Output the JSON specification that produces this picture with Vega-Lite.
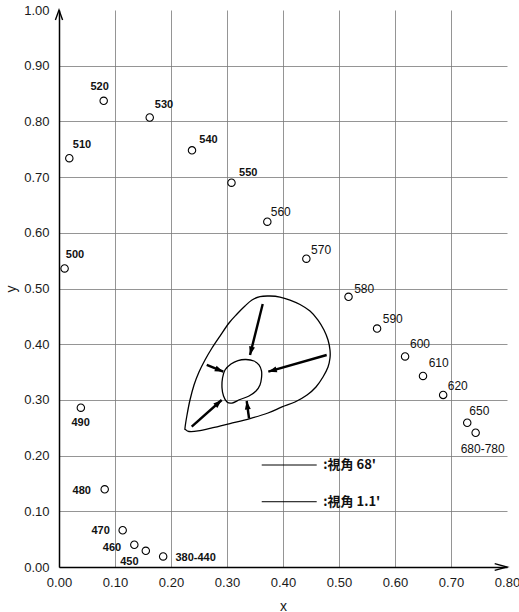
{
  "$schema": "https://vega.github.io/schema/vega-lite/v6.json",
  "width": 448,
  "height": 557,
  "autosize": {"type": "none"},
  "padding": {"left": 59, "top": 10, "right": 12, "bottom": 45},
  "background": "white",
  "config": {"view": {"stroke": null}, "font": "Liberation Sans"},
  "datasets": {
    "points": [
      {"wl": "380-440", "w": 380, "x": 0.186, "y": 0.019, "lx": 0.244, "ly": 0.016},
      {"wl": "450", "w": 450, "x": 0.155, "y": 0.029, "lx": 0.1256, "ly": 0.009},
      {"wl": "460", "w": 460, "x": 0.1345, "y": 0.040, "lx": 0.0946, "ly": 0.0335},
      {"wl": "470", "w": 470, "x": 0.1137, "y": 0.066, "lx": 0.0744, "ly": 0.065},
      {"wl": "480", "w": 480, "x": 0.0816, "y": 0.1395, "lx": 0.0405, "ly": 0.137},
      {"wl": "490", "w": 490, "x": 0.039, "y": 0.286, "lx": 0.0387, "ly": 0.259},
      {"wl": "500", "w": 500, "x": 0.010, "y": 0.536, "lx": 0.0286, "ly": 0.560},
      {"wl": "510", "w": 510, "x": 0.0184, "y": 0.734, "lx": 0.041, "ly": 0.758},
      {"wl": "520", "w": 520, "x": 0.0798, "y": 0.837, "lx": 0.0725, "ly": 0.862},
      {"wl": "530", "w": 530, "x": 0.162, "y": 0.807, "lx": 0.1875, "ly": 0.829},
      {"wl": "540", "w": 540, "x": 0.2375, "y": 0.748, "lx": 0.267, "ly": 0.767},
      {"wl": "550", "w": 550, "x": 0.308, "y": 0.690, "lx": 0.338, "ly": 0.707},
      {"wl": "560", "w": 560, "x": 0.372, "y": 0.620, "lx": 0.396, "ly": 0.637},
      {"wl": "570", "w": 570, "x": 0.4417, "y": 0.5535, "lx": 0.468, "ly": 0.569},
      {"wl": "580", "w": 580, "x": 0.517, "y": 0.485, "lx": 0.545, "ly": 0.4997},
      {"wl": "590", "w": 590, "x": 0.568, "y": 0.428, "lx": 0.596, "ly": 0.445},
      {"wl": "600", "w": 600, "x": 0.618, "y": 0.378, "lx": 0.6446, "ly": 0.400},
      {"wl": "610", "w": 610, "x": 0.650, "y": 0.343, "lx": 0.678, "ly": 0.366},
      {"wl": "620", "w": 620, "x": 0.686, "y": 0.309, "lx": 0.712, "ly": 0.3255},
      {"wl": "650", "w": 650, "x": 0.729, "y": 0.259, "lx": 0.7506, "ly": 0.280},
      {"wl": "680-780", "w": 680, "x": 0.744, "y": 0.241, "lx": 0.7566, "ly": 0.212}
    ],
    "curves": [
      {"curve": "outer", "order": 1, "x": 0.225, "y": 0.2496},
      {"curve": "outer", "order": 2, "x": 0.2286, "y": 0.2729},
      {"curve": "outer", "order": 3, "x": 0.2339, "y": 0.2998},
      {"curve": "outer", "order": 4, "x": 0.2411, "y": 0.3268},
      {"curve": "outer", "order": 5, "x": 0.25, "y": 0.3501},
      {"curve": "outer", "order": 6, "x": 0.2607, "y": 0.3716},
      {"curve": "outer", "order": 7, "x": 0.2732, "y": 0.3932},
      {"curve": "outer", "order": 8, "x": 0.2875, "y": 0.4147},
      {"curve": "outer", "order": 9, "x": 0.3036, "y": 0.4381},
      {"curve": "outer", "order": 10, "x": 0.3179, "y": 0.4542},
      {"curve": "outer", "order": 11, "x": 0.3321, "y": 0.4686},
      {"curve": "outer", "order": 12, "x": 0.3446, "y": 0.4793},
      {"curve": "outer", "order": 13, "x": 0.3589, "y": 0.4856},
      {"curve": "outer", "order": 14, "x": 0.3768, "y": 0.4865},
      {"curve": "outer", "order": 15, "x": 0.3946, "y": 0.4847},
      {"curve": "outer", "order": 16, "x": 0.4125, "y": 0.4793},
      {"curve": "outer", "order": 17, "x": 0.4304, "y": 0.4713},
      {"curve": "outer", "order": 18, "x": 0.4482, "y": 0.4596},
      {"curve": "outer", "order": 19, "x": 0.4625, "y": 0.4434},
      {"curve": "outer", "order": 20, "x": 0.4732, "y": 0.4255},
      {"curve": "outer", "order": 21, "x": 0.4804, "y": 0.4075},
      {"curve": "outer", "order": 22, "x": 0.4839, "y": 0.3896},
      {"curve": "outer", "order": 23, "x": 0.4839, "y": 0.3752},
      {"curve": "outer", "order": 24, "x": 0.4804, "y": 0.3591},
      {"curve": "outer", "order": 25, "x": 0.4714, "y": 0.3411},
      {"curve": "outer", "order": 26, "x": 0.4589, "y": 0.3232},
      {"curve": "outer", "order": 27, "x": 0.4429, "y": 0.3088},
      {"curve": "outer", "order": 28, "x": 0.4214, "y": 0.2962},
      {"curve": "outer", "order": 29, "x": 0.3982, "y": 0.2873},
      {"curve": "outer", "order": 30, "x": 0.3732, "y": 0.2765},
      {"curve": "outer", "order": 31, "x": 0.3411, "y": 0.2666},
      {"curve": "outer", "order": 32, "x": 0.3054, "y": 0.2576},
      {"curve": "outer", "order": 33, "x": 0.2732, "y": 0.2496},
      {"curve": "outer", "order": 34, "x": 0.2482, "y": 0.2442},
      {"curve": "outer", "order": 35, "x": 0.2321, "y": 0.2433},
      {"curve": "outer", "order": 36, "x": 0.2259, "y": 0.2469},
      {"curve": "inner", "order": 1, "x": 0.3339, "y": 0.3725},
      {"curve": "inner", "order": 2, "x": 0.3482, "y": 0.3698},
      {"curve": "inner", "order": 3, "x": 0.3571, "y": 0.3627},
      {"curve": "inner", "order": 4, "x": 0.3616, "y": 0.3519},
      {"curve": "inner", "order": 5, "x": 0.3616, "y": 0.3393},
      {"curve": "inner", "order": 6, "x": 0.3589, "y": 0.3268},
      {"curve": "inner", "order": 7, "x": 0.3518, "y": 0.3160},
      {"curve": "inner", "order": 8, "x": 0.3393, "y": 0.3070},
      {"curve": "inner", "order": 9, "x": 0.3232, "y": 0.3007},
      {"curve": "inner", "order": 10, "x": 0.3089, "y": 0.2944},
      {"curve": "inner", "order": 11, "x": 0.3, "y": 0.2962},
      {"curve": "inner", "order": 12, "x": 0.2938, "y": 0.3070},
      {"curve": "inner", "order": 13, "x": 0.2911, "y": 0.3214},
      {"curve": "inner", "order": 14, "x": 0.2920, "y": 0.3393},
      {"curve": "inner", "order": 15, "x": 0.2964, "y": 0.3537},
      {"curve": "inner", "order": 16, "x": 0.3071, "y": 0.3645},
      {"curve": "inner", "order": 17, "x": 0.3196, "y": 0.3707}
    ],
    "arrows": [
      {"x1": 0.3638, "y1": 0.4722, "x2": 0.3411, "y2": 0.3806},
      {"x1": 0.478, "y1": 0.3806, "x2": 0.3738, "y2": 0.3506},
      {"x1": 0.2638, "y1": 0.3627, "x2": 0.2934, "y2": 0.3506},
      {"x1": 0.237, "y1": 0.2519, "x2": 0.2905, "y2": 0.2998},
      {"x1": 0.3393, "y1": 0.267, "x2": 0.3352, "y2": 0.298}
    ],
    "legend": [
      {"label": ":視角 68'", "x1": 0.362, "x2": 0.4602, "y": 0.1831, "tx": 0.472},
      {"label": ":視角 1.1'", "x1": 0.362, "x2": 0.4602, "y": 0.1172, "tx": 0.472}
    ],
    "ytip": [{"x": 0, "y": 1}],
    "xtip": [{"x": 0.8, "y": 0}]
  },
  "layer": [
    {
      "data": {"name": "points"},
      "mark": {"type": "point", "shape": "circle", "filled": false, "stroke": "black", "strokeWidth": 1.1, "size": 55, "opacity": 1},
      "encoding": {
        "x": {
          "field": "x", "type": "quantitative",
          "scale": {"domain": [0, 0.8], "nice": false, "zero": false},
          "axis": {
            "title": "x", "values": [0, 0.1, 0.2, 0.3, 0.4, 0.5, 0.6, 0.7, 0.8], "format": ".2f",
            "labelFlush": false, "ticks": false, "labelPadding": 9, "labelFontSize": 13, "labelColor": "#1a1a1a",
            "labelFont": "Liberation Sans",
            "domainColor": "black", "domainWidth": 1.5, "grid": true, "gridColor": "#7a7a7a", "gridWidth": 0.8,
            "gridOpacity": {"condition": {"test": "datum.value >= 0.8", "value": 0}, "value": 1},
            "titleFontSize": 14, "titleFontWeight": "normal", "titlePadding": 10, "titleColor": "#1a1a1a", "titleFont": "Liberation Sans"
          }
        },
        "y": {
          "field": "y", "type": "quantitative",
          "scale": {"domain": [0, 1], "nice": false, "zero": false},
          "axis": {
            "title": "y", "values": [0, 0.1, 0.2, 0.3, 0.4, 0.5, 0.6, 0.7, 0.8, 0.9, 1.0], "format": ".2f",
            "ticks": false, "labelPadding": 10, "labelFontSize": 13, "labelColor": "#1a1a1a", "labelFont": "Liberation Sans",
            "domainColor": "black", "domainWidth": 1.5, "grid": true, "gridColor": "#7a7a7a", "gridWidth": 0.8,
            "gridOpacity": {"condition": {"test": "datum.value >= 1", "value": 0}, "value": 1},
            "titleFontSize": 14, "titleFontWeight": "normal", "titlePadding": 5, "titleColor": "#1a1a1a", "titleFont": "Liberation Sans"
          }
        }
      }
    },
    {
      "data": {"name": "points"},
      "transform": [{"filter": "datum.w < 560"}],
      "mark": {"type": "text", "font": "Liberation Sans", "fontSize": 11, "fontWeight": "bold", "align": "center", "baseline": "middle", "color": "#111"},
      "encoding": {
        "x": {"field": "lx", "type": "quantitative"},
        "y": {"field": "ly", "type": "quantitative"},
        "text": {"field": "wl"}
      }
    },
    {
      "data": {"name": "points"},
      "transform": [{"filter": "datum.w >= 560"}],
      "mark": {"type": "text", "font": "Liberation Sans", "fontSize": 12, "fontWeight": "normal", "align": "center", "baseline": "middle", "color": "#111"},
      "encoding": {
        "x": {"field": "lx", "type": "quantitative"},
        "y": {"field": "ly", "type": "quantitative"},
        "text": {"field": "wl"}
      }
    },
    {
      "data": {"name": "curves"},
      "mark": {"type": "line", "interpolate": "cardinal-closed", "stroke": "black", "strokeWidth": 1.3},
      "encoding": {
        "x": {"field": "x", "type": "quantitative"},
        "y": {"field": "y", "type": "quantitative"},
        "detail": {"field": "curve"},
        "order": {"field": "order", "type": "quantitative"}
      }
    },
    {
      "data": {"name": "arrows"},
      "mark": {"type": "rule", "strokeWidth": 2.4, "color": "black"},
      "encoding": {
        "x": {"field": "x1", "type": "quantitative"},
        "y": {"field": "y1", "type": "quantitative"},
        "x2": {"field": "x2"},
        "y2": {"field": "y2"}
      }
    },
    {
      "data": {"name": "arrows"},
      "transform": [{"calculate": "(atan2(datum.x2 - datum.x1, datum.y2 - datum.y1) * 180 / PI + 360) % 360", "as": "ang"}],
      "mark": {"type": "point", "shape": "M0,0L0.6,1.7L-0.6,1.7Z", "filled": true, "color": "black", "size": 100, "opacity": 1},
      "encoding": {
        "x": {"field": "x2", "type": "quantitative"},
        "y": {"field": "y2", "type": "quantitative"},
        "angle": {"field": "ang", "type": "quantitative", "scale": null}
      }
    },
    {
      "data": {"name": "legend"},
      "mark": {"type": "rule", "strokeWidth": 1, "color": "black"},
      "encoding": {
        "x": {"field": "x1", "type": "quantitative"},
        "x2": {"field": "x2"},
        "y": {"field": "y", "type": "quantitative"}
      }
    },
    {
      "data": {"name": "legend"},
      "mark": {"type": "text", "font": "Noto Sans CJK JP", "fontSize": 13, "fontWeight": "bold", "align": "left", "baseline": "middle", "color": "#111"},
      "encoding": {
        "x": {"field": "tx", "type": "quantitative"},
        "y": {"field": "y", "type": "quantitative"},
        "text": {"field": "label"}
      }
    },
    {
      "data": {"name": "ytip"},
      "mark": {"type": "point", "shape": "M-0.4,1.1L0,0L0.4,1.1", "filled": false, "stroke": "black", "strokeWidth": 1.4, "size": 324, "opacity": 1, "angle": 0},
      "encoding": {
        "x": {"field": "x", "type": "quantitative"},
        "y": {"field": "y", "type": "quantitative"}
      }
    },
    {
      "data": {"name": "xtip"},
      "mark": {"type": "point", "shape": "M-0.3,1.1L0,0L0.3,1.1", "filled": false, "stroke": "black", "strokeWidth": 1.4, "size": 500, "opacity": 1, "angle": 90},
      "encoding": {
        "x": {"field": "x", "type": "quantitative"},
        "y": {"field": "y", "type": "quantitative"}
      }
    }
  ]
}
